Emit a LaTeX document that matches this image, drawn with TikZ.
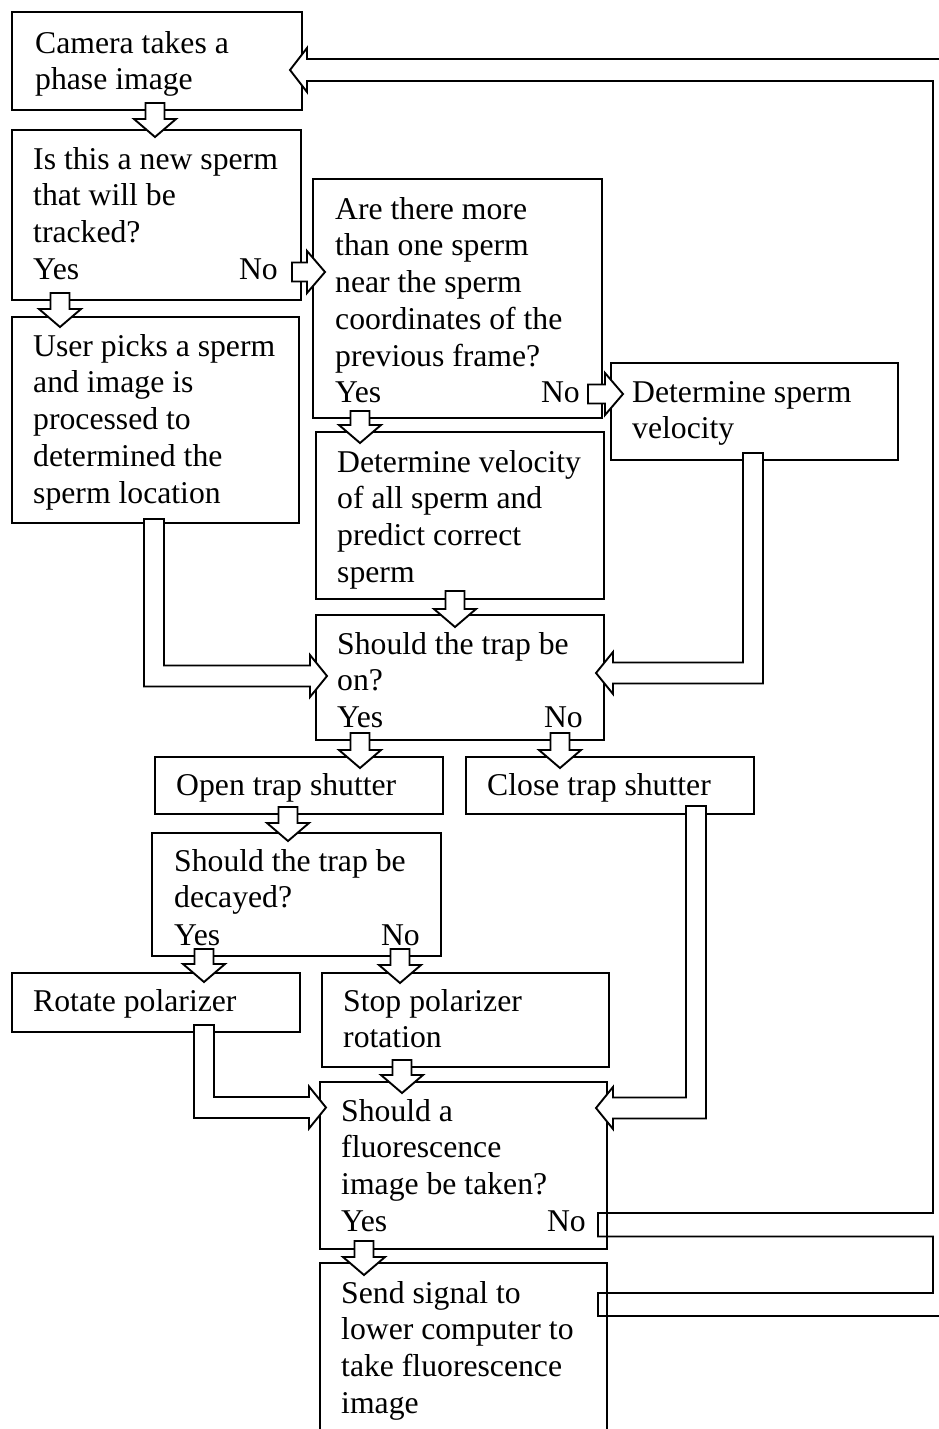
\documentclass[tikz,border=0pt]{standalone}
\usepackage{fontspec}
\setmainfont{Liberation Serif}
\usetikzlibrary{calc}
\tikzset{
  box/.style={draw, line width=1.9pt, fill=white, inner sep=0pt, outer sep=0pt, anchor=north west, rectangle},
  txt/.style={inner sep=0pt, anchor=base west, font=\fontsize{31.7pt}{36.8pt}\selectfont},
  txtr/.style={txt, anchor=base east},
  blk/.style={draw, fill=white, line width=1.9pt, line join=miter},
}
\newcommand\tl[1]{\begin{tabular}[t]{@{}l@{}}#1\end{tabular}}
% straight hollow block arrow from #1 (tail) to #2 (tip)
\newcommand\sarrow[2]{%
  \draw[blk] let \p1=(#1), \p2=(#2), \n1={veclen(\x2-\x1,\y2-\y1)}, \n2={atan2(\y2-\y1,\x2-\x1)} in
  [shift={(\p1)}, rotate=\n2] (0pt,9.5pt) -- (\n1-18pt,9.5pt) -- (\n1-18pt,21pt) -- (\n1,0pt)
  -- (\n1-18pt,-21pt) -- (\n1-18pt,-9.5pt) -- (0pt,-9.5pt) -- cycle;}
% bent arrow: down, then right
\newcommand\larrowR[3]{%
  \draw[blk] let \p1=(#1), \p2=(#2), \p3=(#3) in
  (\x1-10pt,\y1) -- (\x1+10pt,\y1) -- (\x1+10pt,\y2+10.5pt) -- (\x3-17pt,\y2+10.5pt)
  -- (\x3-17pt,\y2+21pt) -- (\x3,\y2) -- (\x3-17pt,\y2-21pt) -- (\x3-17pt,\y2-10.5pt)
  -- (\x1-10pt,\y2-10.5pt) -- cycle;}
% bent arrow: down, then left
\newcommand\larrowL[3]{%
  \draw[blk] let \p1=(#1), \p2=(#2), \p3=(#3) in
  (\x1-10pt,\y1) -- (\x1+10pt,\y1) -- (\x1+10pt,\y2-10.5pt) -- (\x3+17pt,\y2-10.5pt)
  -- (\x3+17pt,\y2-21pt) -- (\x3,\y2) -- (\x3+17pt,\y2+21pt) -- (\x3+17pt,\y2+10.5pt)
  -- (\x1-10pt,\y2+10.5pt) -- cycle;}
\begin{document}
\begin{tikzpicture}[x=1pt,y=-1pt]
\useasboundingbox (0,0) rectangle (939,1429);
\clip (0,0) rectangle (939,1429);

% boxes
\node[box, minimum width=290pt, minimum height=98pt]  (b1)  at (12,12) {};
\node[box, minimum width=289pt, minimum height=170pt] (b2)  at (12,130) {};
\node[box, minimum width=289pt, minimum height=239pt] (b3)  at (313,179) {};
\node[box, minimum width=287pt, minimum height=206pt] (b4)  at (12,317) {};
\node[box, minimum width=287pt, minimum height=97pt]  (b5)  at (611,363) {};
\node[box, minimum width=288pt, minimum height=167pt] (b6)  at (316,432) {};
\node[box, minimum width=288pt, minimum height=125pt] (b7)  at (316,615) {};
\node[box, minimum width=288pt, minimum height=57pt]  (b8)  at (155,757) {};
\node[box, minimum width=288pt, minimum height=57pt]  (b9)  at (466,757) {};
\node[box, minimum width=289pt, minimum height=123pt] (b10) at (152,833) {};
\node[box, minimum width=288pt, minimum height=59pt]  (b11) at (12,973) {};
\node[box, minimum width=287pt, minimum height=94pt]  (b12) at (322,973) {};
\node[box, minimum width=287pt, minimum height=167pt] (b13) at (320,1082) {};
\node[box, minimum width=287pt, minimum height=200pt] (b14) at (320,1263) {};

% arrow end points
\coordinate (a1s) at (155,103);  \coordinate (a1e) at (155,137);
\coordinate (a2s) at (292,272);  \coordinate (a2e) at (325,272);
\coordinate (a3s) at (60,293);   \coordinate (a3e) at (60,327);
\coordinate (a4s) at (588,394);  \coordinate (a4e) at (623,394);
\coordinate (a5s) at (360,411);  \coordinate (a5e) at (360,443);
\coordinate (a6s) at (455,591);  \coordinate (a6e) at (455,627);
\coordinate (a7s) at (360,733);  \coordinate (a7e) at (360,768);
\coordinate (a8s) at (560,733);  \coordinate (a8e) at (560,768);
\coordinate (a9s) at (288,807);  \coordinate (a9e) at (288,841);
\coordinate (a10s) at (204,949); \coordinate (a10e) at (204,982);
\coordinate (a11s) at (400,949); \coordinate (a11e) at (400,983);
\coordinate (a12s) at (402,1060);\coordinate (a12e) at (402,1093);
\coordinate (a13s) at (364,1241);\coordinate (a13e) at (364,1275);

\sarrow{a1s}{a1e}
\sarrow{a2s}{a2e}
\sarrow{a3s}{a3e}
\sarrow{a4s}{a4e}
\sarrow{a5s}{a5e}
\sarrow{a6s}{a6e}
\sarrow{a7s}{a7e}
\sarrow{a8s}{a8e}
\sarrow{a9s}{a9e}
\sarrow{a10s}{a10e}
\sarrow{a11s}{a11e}
\sarrow{a12s}{a12e}
\sarrow{a13s}{a13e}

% bent arrows
\coordinate (l1s) at (154,519);  \coordinate (l1c) at (154,676);  \coordinate (l1e) at (327,676);
\coordinate (l2s) at (753,453);  \coordinate (l2c) at (753,673);  \coordinate (l2e) at (596,673);
\coordinate (l3s) at (696,806);  \coordinate (l3c) at (696,1108); \coordinate (l3e) at (596,1108);
\coordinate (l4s) at (204,1025); \coordinate (l4c) at (204,1107.5); \coordinate (l4e) at (326,1107.5);
\larrowR{l1s}{l1c}{l1e}
\larrowL{l2s}{l2c}{l2e}
\larrowL{l3s}{l3c}{l3e}
\larrowR{l4s}{l4c}{l4e}

% feedback loop back to the camera
\coordinate (fno) at (598,1213);
\coordinate (ftip) at (290,70);
\draw[blk] (fno) -- (933,1213) -- (933,81) -- (307,81) -- (307,92) -- (ftip) -- (307,48) -- (307,59)
  -- (950,59) -- (950,1316) -- (598,1316) -- (598,1293) -- (933,1293) -- (933,1236.5) -- (598,1236.5) -- cycle;
\draw[line width=1.9pt] (b13.south east) -- ++(0,-70);
\draw[line width=1.9pt] (b14.north east) -- (b14.south east);

% texts
\node[txt] (t1) at (35,53) {\tl{Camera takes a\\phase image}};
\node[txt] (t2) at (33,169) {\tl{Is this a new sperm\\that will be\\tracked?}};
\node[txt] (y2) at (33,279) {Yes};
\node[txtr] (n2) at (278,279) {No};
\node[txt] (t3) at (335,219) {\tl{Are there more\\than one sperm\\near the sperm\\coordinates of the\\previous frame?}};
\node[txt] (y3) at (335,402) {Yes};
\node[txtr] (n3) at (580,402) {No};
\node[txt] (t4) at (33,356) {\tl{User picks a sperm\\and image is\\processed to\\determined the\\sperm location}};
\node[txt] (t5) at (632,402) {\tl{Determine sperm\\velocity}};
\node[txt] (t6) at (337,472) {\tl{Determine velocity\\of all sperm and\\predict correct\\sperm}};
\node[txt] (t7) at (337,654) {\tl{Should the trap be\\on?}};
\node[txt] (y7) at (337,727) {Yes};
\node[txtr] (n7) at (583,727) {No};
\node[txt] (t8) at (176,795) {Open trap shutter};
\node[txt] (t9) at (487,795) {Close trap shutter};
\node[txt] (t10) at (174,871) {\tl{Should the trap be\\decayed?}};
\node[txt] (y10) at (174,945) {Yes};
\node[txtr] (n10) at (420,945) {No};
\node[txt] (t11) at (33,1011) {Rotate polarizer};
\node[txt] (t12) at (343,1011) {\tl{Stop polarizer\\rotation}};
\node[txt] (t13) at (341,1121) {\tl{Should a\\fluorescence\\image be taken?}};
\node[txt] (y13) at (341,1231) {Yes};
\node[txtr] (n13) at (586,1231) {No};
\node[txt] (t14) at (341,1303) {\tl{Send signal to\\lower computer to\\take fluorescence\\image}};
\end{tikzpicture}
\end{document}
